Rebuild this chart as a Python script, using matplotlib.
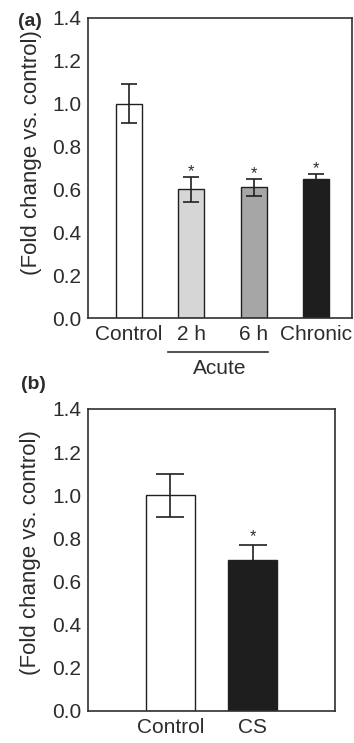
import numpy as np
import matplotlib
matplotlib.use("Agg")
import matplotlib.pyplot as plt
import matplotlib.transforms as mtransforms

plt.rcParams['font.family'] = ['Liberation Sans', 'DejaVu Sans']

# Panel (a) data
a_labels = ["Control", "2 h", "6 h", "Chronic"]
a_values = [1.00, 0.60, 0.61, 0.65]
a_errors = [0.09, 0.06, 0.04, 0.02]
a_colors = ["white", "#d6d6d6", "#a6a6a6", "#1e1e1e"]
a_sig = [False, True, True, True]

# Panel (b) data
b_labels = ["Control", "CS"]
b_values = [1.00, 0.70]
b_errors = [0.10, 0.07]
b_colors = ["white", "#1e1e1e"]
b_sig = [False, True]

yticks = [0.0, 0.2, 0.4, 0.6, 0.8, 1.0, 1.2, 1.4]
fs = 15
txt_col = "#2c2c2c"

fig = plt.figure(figsize=(3.54, 7.43), dpi=100)
ax1 = fig.add_axes([0.2486, 0.572, 0.7458, 0.4038])
ax2 = fig.add_axes([0.2486, 0.0431, 0.698, 0.4065])


def draw_panel(ax, labels, values, errors, colors, sig, width, capsize, xlim, star_off, lab_xy):
    x = np.arange(len(labels))
    ax.bar(x, values, width=width, color=colors, edgecolor="#202020", linewidth=1.0, zorder=2)
    ax.errorbar(x, values, yerr=errors, fmt="none", ecolor="#202020",
                elinewidth=1.2, capsize=capsize, capthick=1.2, zorder=3)
    for xi, v, e, s in zip(x, values, errors, sig):
        if s:
            ax.text(xi, v + e + star_off, "*", ha="center", va="center", fontsize=12, color=txt_col)
    ax.set_xlim(*xlim)
    ax.set_ylim(0, 1.4)
    ax.set_yticks(yticks)
    ax.set_yticklabels([f"{t:.1f}" for t in yticks], fontsize=fs, color=txt_col)
    ax.set_xticks(x)
    ax.set_xticklabels(labels, fontsize=fs, color=txt_col)
    ax.tick_params(axis="both", length=0, pad=5)
    for sp in ax.spines.values():
        sp.set_linewidth(1.2)
        sp.set_color("#303030")
    ax.set_ylabel("(Fold change vs. control)", fontsize=16, color=txt_col)
    ax.yaxis.set_label_coords(*lab_xy)


draw_panel(ax1, a_labels, a_values, a_errors, a_colors, a_sig, 0.42, 6, (-0.66, 3.58), 0.025,
           (-0.175, 0.55))
draw_panel(ax2, b_labels, b_values, b_errors, b_colors, b_sig, 0.6, 10, (-1.0, 2.0), 0.04,
           (-0.19, 0.525))

# "Acute" grouping line under 2 h and 6 h
trans = mtransforms.blended_transform_factory(ax1.transData, ax1.transAxes)
ax1.plot([0.63, 2.23], [-0.113, -0.113], transform=trans, color="#303030",
         linewidth=1.2, clip_on=False)
ax1.text(1.46, -0.167, "Acute", transform=trans, ha="center", va="center",
         fontsize=fs, color=txt_col)

# Panel letters
fig.text(0.052, 0.971, "(a)", fontsize=14, fontweight="bold", color=txt_col, va="center")
fig.text(0.060, 0.483, "(b)", fontsize=14, fontweight="bold", color=txt_col, va="center")

fig.savefig("out.png", dpi=100)
